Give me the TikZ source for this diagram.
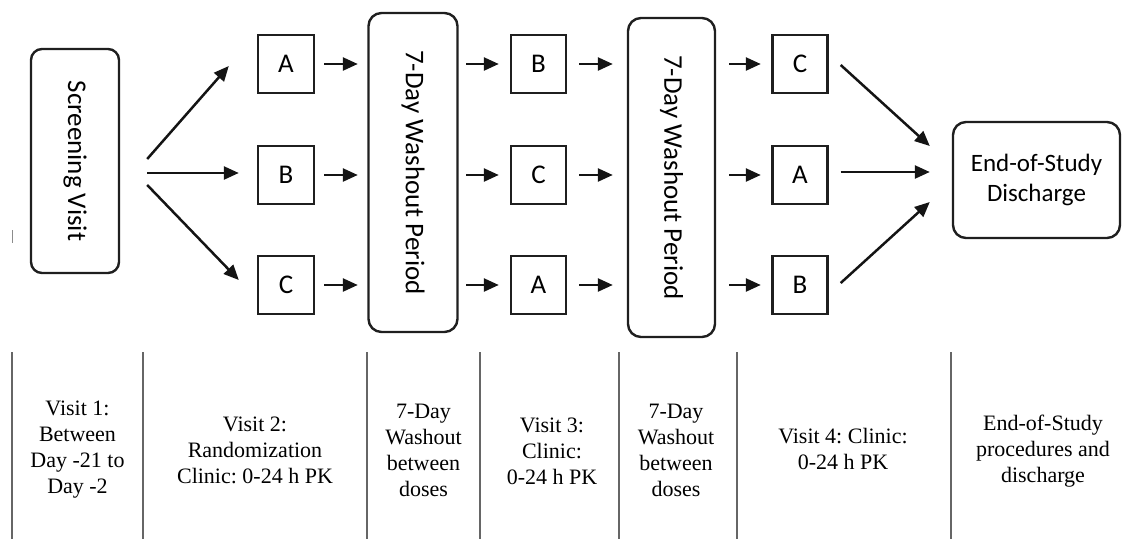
\documentclass[tikz,border=0pt]{standalone}
\usepackage{fontspec}
\setmainfont{Liberation Serif}
\newfontfamily\calfont{Carlito}
\usetikzlibrary{arrows.meta}
\frenchspacing
\begin{document}
\begin{tikzpicture}[x=1pt,y=-1pt,
  sq/.style={draw=black!88, line width=2.4pt, minimum width=56pt, minimum height=58pt, inner sep=0pt,
    font=\calfont\fontsize{27}{30}\selectfont},
  rbox/.style={draw=black!88, line width=2.4pt, rounded corners=13pt, inner sep=0pt,
    font=\calfont\fontsize{27}{30}\selectfont},
  arr/.style={line width=2.5pt, draw=black!92, -{Triangle[length=15pt,width=13pt]}},
  sepline/.style={draw=black!60, line width=2pt},
  cell/.style={align=center, inner sep=0pt, font=\fontsize{22}{26}\selectfont}]
\useasboundingbox (0,0) rectangle (1128,539);

% top flow
\node[rbox, minimum width=88pt, minimum height=224pt, rounded corners=11pt] (S) at (75,161) {\rotatebox{-90}{Screening Visit}};
\node[sq] (A1) at (286,64) {A};
\node[sq] (B1) at (286,175) {B};
\node[sq] (C1) at (286,285) {C};
\node[rbox, minimum width=89pt, minimum height=319pt] (W1) at (413,172.5) {\rotatebox{-90}{7-Day Washout Period}};
\node[sq, minimum width=55pt] (B2) at (538.5,64) {B};
\node[sq, minimum width=55pt] (C2) at (538.5,175) {C};
\node[sq, minimum width=55pt] (A2) at (538.5,285) {A};
\node[rbox, minimum width=87pt, minimum height=319pt] (W2) at (671.5,177.5) {\rotatebox{-90}{7-Day Washout Period}};
\node[sq, minimum width=55pt] (C3) at (800,64) {C};
\node[sq, minimum width=55pt] (A3) at (800,175) {A};
\node[sq, minimum width=55pt] (B3) at (800,285) {B};
\node[rbox, minimum width=167pt, minimum height=116pt, align=center,
  font=\calfont\fontsize{25}{30}\selectfont] (E) at (1036.5,180) {End-of-Study\\Discharge};

% arrows from screening
\draw[arr] ([shift={(27,-2)}]S.east) -- ([shift={(-28,2)}]A1.west);
\draw[arr] ([shift={(27,12)}]S.east) -- ([shift={(-18,-2)}]B1.west);
\draw[arr] ([shift={(27,24)}]S.east) -- ([shift={(-18,-5)}]C1.west);

% row arrows
\foreach \n in {A1,B1,C1}{
  \draw[arr, shorten <=9pt, shorten >=9.5pt] (\n.east) -- (\n.east -| W1.west);
}
\foreach \n in {B2,C2,A2}{
  \draw[arr, shorten <=7.5pt, shorten >=11pt] (\n.west -| W1.east) -- (\n.west);
  \draw[arr, shorten <=12pt, shorten >=14pt] (\n.east) -- (\n.east -| W2.west);
}
\foreach \n in {C3,A3,B3}{
  \draw[arr, shorten <=13pt, shorten >=10.5pt] (\n.west -| W2.east) -- (\n.west);
}

% arrows to end
\draw[arr] ([shift={(12,1)}]C3.east) -- ([shift={(-22,-34)}]E.west);
\draw[arr] ([shift={(12,-3)}]A3.east) -- ([shift={(-22,-8)}]E.west);
\draw[arr] ([shift={(12,-2)}]B3.east) -- ([shift={(-22,22)}]E.west);

% small stray mark
\draw[black!45, line width=1pt] (12,230) -- (12,243);

% bottom table separators
\foreach \x in {12,143,367,480,619,737,951}{
  \draw[sepline] (\x,352) -- (\x,539);
}

% bottom table texts
\node[cell] (t1) at (77.5,450) {Visit 1:\\Between\\Day -21 to\\Day -2};
\node[cell] (t2) at (255,450) {Visit 2:\\Randomization\\Clinic: 0-24 h PK};
\node[cell] (t3) at (423.5,450) {7-Day\\Washout\\between\\doses};
\node[cell] (t4) at (552,451) {Visit 3:\\Clinic:\\0-24 h PK};
\node[cell] (t5) at (676,450) {7-Day\\Washout\\between\\doses};
\node[cell] (t6) at (843,449) {Visit 4: Clinic:\\0-24 h PK};
\node[cell] (t7) at (1043,451) {End-of-Study\\procedures and\\discharge};
\end{tikzpicture}
\end{document}
